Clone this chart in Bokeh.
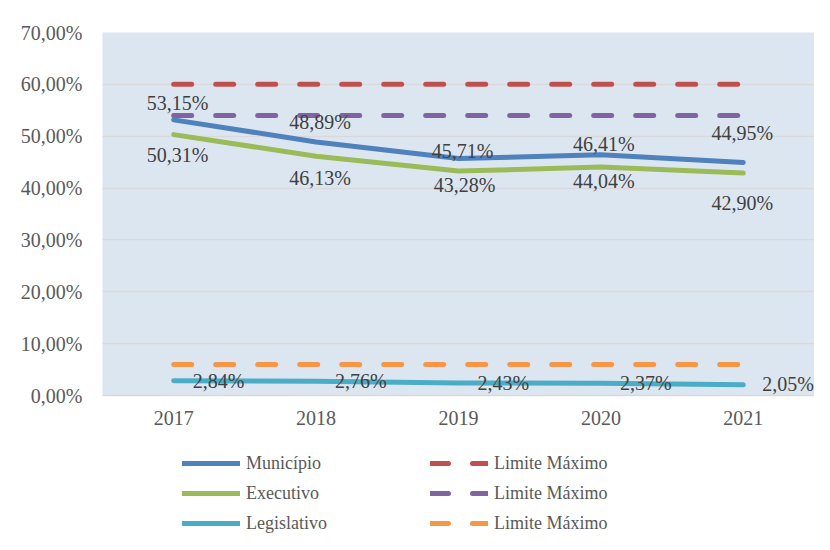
from bokeh.plotting import figure
from bokeh.layouts import column
from bokeh.models import (ColumnDataSource, FactorRange, Range1d, FixedTicker,
                          CustomJSTickFormatter, Legend, LegendItem)
from bokeh.core.properties import value
from bokeh.embed import file_html
from bokeh.resources import INLINE

years = ["2017", "2018", "2019", "2020", "2021"]
municipio = [53.15, 48.89, 45.71, 46.41, 44.95]
executivo = [50.31, 46.13, 43.28, 44.04, 42.90]
legislativo = [2.84, 2.76, 2.43, 2.37, 2.05]
limite_municipio = [60.0, 60.0, 60.0, 60.0, 60.0]
limite_executivo = [54.0, 54.0, 54.0, 54.0, 54.0]
limite_legislativo = [6.0, 6.0, 6.0, 6.0, 6.0]
y_ticks = [0, 10, 20, 30, 40, 50, 60, 70]
legend_left = ["Município", "Executivo", "Legislativo"]
legend_right = ["Limite Máximo", "Limite Máximo", "Limite Máximo"]

# label placement (screen px offsets)
mun_dx = [4, 4, 4, 3, -1]
mun_dy = [-17, -20, -7, -11, -29]
exe_dx = [4, 4, 6, 3, -1]
exe_dy = [20, 22, 14, 14, 30]
leg_dx = [19, 19, 19, 19, 19]
leg_dy = [0, 0, 0, 0, -1]

FONT = "Liberation Serif"
LEGEND_FONT = "serif"
BLUE, GREEN, CYAN = "#4f81bd", "#9bbb59", "#4bacc6"
RED, PURPLE, ORANGE = "#c0504d", "#8064a2", "#f79646"
DASH = "18 24"

p = figure(x_range=FactorRange(*years, range_padding=0), y_range=Range1d(0, 70),
           frame_width=712, frame_height=363, output_backend="svg", toolbar_location=None,
           min_border_left=102, min_border_right=0, min_border_top=32, min_border_bottom=35)
p.background_fill_color = "#dce6f1"
p.border_fill_color = "white"
p.outline_line_color = None

p.xgrid.grid_line_color = None
p.ygrid.grid_line_color = "#d9d9d9"
p.ygrid.grid_line_width = 1.5
p.yaxis.ticker = FixedTicker(ticks=y_ticks)
p.yaxis.formatter = CustomJSTickFormatter(code="return tick.toFixed(2).replace('.', ',') + '%';")
p.yaxis.axis_line_color = None
p.yaxis.major_tick_line_color = None
p.yaxis.minor_tick_line_color = None
p.yaxis.major_label_standoff = 14
p.xaxis.axis_line_color = "#d9d9d9"
p.xaxis.axis_line_width = 1.5
p.xaxis.major_tick_line_color = None
p.xaxis.major_label_standoff = 9
for ax in (p.xaxis, p.yaxis):
    ax.major_label_text_font = FONT
    ax.major_label_text_font_size = "20px"
    ax.major_label_text_color = "#595959"

src = ColumnDataSource(dict(x=years, mun=municipio, exe=executivo, leg=legislativo,
                            lm=limite_municipio, le=limite_executivo, ll=limite_legislativo))

p.line("x", "lm", source=src, line_color=RED, line_width=5, line_dash=DASH, line_cap="round")
p.line("x", "le", source=src, line_color=PURPLE, line_width=5, line_dash=DASH, line_cap="round")
p.line("x", "ll", source=src, line_color=ORANGE, line_width=5, line_dash=DASH, line_cap="round")
p.line("x", "mun", source=src, line_color=BLUE, line_width=5, line_cap="round", line_join="round")
p.line("x", "exe", source=src, line_color=GREEN, line_width=5, line_cap="round", line_join="round")
p.line("x", "leg", source=src, line_color=CYAN, line_width=5, line_cap="round", line_join="round")

def fmt(v):
    return f"{v:.2f}".replace(".", ",") + "%"

def labels(vals, dx, dy, align):
    s = ColumnDataSource(dict(x=years, y=vals, t=[fmt(v) for v in vals], dx=dx, dy=dy))
    p.text("x", "y", text="t", x_offset="dx", y_offset="dy", source=s,
           text_font=value(FONT), text_font_size="20px", text_color="#404040",
           text_align=align, text_baseline="middle")

labels(municipio, mun_dx, mun_dy, "center")
labels(executivo, exe_dx, exe_dy, "center")
labels(legislativo, leg_dx, leg_dy, "left")

# legend strip below the chart (its frame is aligned with the chart's frame)
pl = figure(width=814, height=110, x_range=Range1d(0, 1), y_range=Range1d(0, 1),
            x_axis_location=None, y_axis_location=None, output_backend="svg",
            toolbar_location=None, min_border=0)
pl.grid.grid_line_color = None
pl.outline_line_color = None
pl.background_fill_color = "white"
pl.border_fill_color = "white"

nan = float("nan")
placeholder = ColumnDataSource(dict(x=[nan], y=[nan]))
solid = [pl.line("x", "y", source=placeholder, line_color=c, line_width=5, line_cap="round")
         for c in (BLUE, GREEN, CYAN)]
dashed = [pl.line("x", "y", source=placeholder, line_color=c, line_width=5, line_dash=DASH,
                  line_cap="round") for c in (RED, PURPLE, ORANGE)]

def make_legend(names, rends, x):
    lg = Legend(items=[LegendItem(label=n, renderers=[r]) for n, r in zip(names, rends)],
                location=(x, 2), orientation="vertical",
                glyph_width=58, glyph_height=30, spacing=0, padding=0, margin=0,
                label_standoff=6, label_text_font=LEGEND_FONT, label_text_font_size="18px",
                label_text_color="#595959", border_line_color=None,
                background_fill_alpha=0)
    pl.add_layout(lg, "center")

make_legend(legend_left, solid, 80)
make_legend(legend_right, dashed, 328)

layout = column(p, pl, spacing=0)
open("out.html", "w").write(file_html(layout, INLINE))
